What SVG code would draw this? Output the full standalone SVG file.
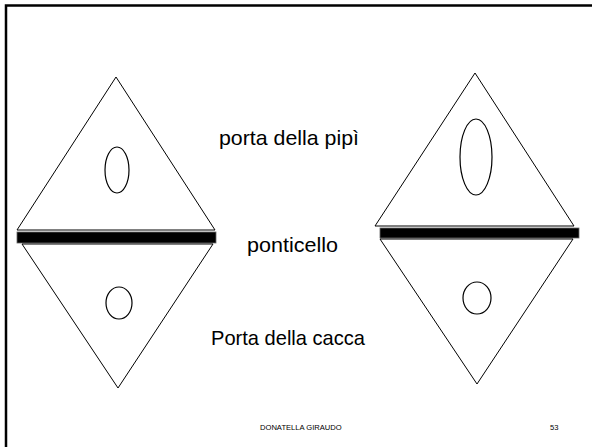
<svg xmlns="http://www.w3.org/2000/svg" width="592" height="447" viewBox="0 0 592 447">
<style>
.tri{fill:#fff;stroke:#000;stroke-width:1}
.hole{fill:#fff;stroke:#000;stroke-width:1.2}
.bar{fill:#000;stroke:#666;stroke-width:0.8}
.lbl{font-family:"Liberation Sans",Arial,sans-serif;font-size:21px;fill:#000}
.foot{font-family:"Liberation Sans",Arial,sans-serif;font-size:7.6px;fill:#000}
</style>
<rect width="592" height="447" fill="#fff"/>
<path d="M6,447 V5.5 H592" fill="none" stroke="#000" stroke-width="2.5"/>
<g id="left-shape">
<polygon class="tri" points="116,77 17,230 215,230"/>
<ellipse class="hole" cx="117" cy="170" rx="12" ry="23"/>
<rect class="bar" x="17" y="232" width="199" height="11"/>
<polygon class="tri" points="22,244 213,244 118,388"/>
<ellipse class="hole" cx="119" cy="303" rx="13" ry="16"/>
</g>
<g id="right-shape">
<polygon class="tri" points="475,73 375,226 574,226"/>
<ellipse class="hole" cx="476" cy="157" rx="16" ry="38"/>
<rect class="bar" x="380" y="228" width="199" height="10"/>
<polygon class="tri" points="380,239 573,239 477,384"/>
<ellipse class="hole" cx="477" cy="298" rx="14" ry="16"/>
</g>
<g id="labels">
<text class="lbl" x="219" y="145" textLength="140" lengthAdjust="spacingAndGlyphs">porta della pipì</text>
<text class="lbl" x="247" y="252" textLength="91" lengthAdjust="spacingAndGlyphs">ponticello</text>
<text class="lbl" x="211" y="345" textLength="154" lengthAdjust="spacingAndGlyphs">Porta della cacca</text>
</g>
<g id="footer">
<text class="foot" x="260" y="430">DONATELLA GIRAUDO</text>
<text class="foot" x="550" y="430">53</text>
</g>
</svg>
